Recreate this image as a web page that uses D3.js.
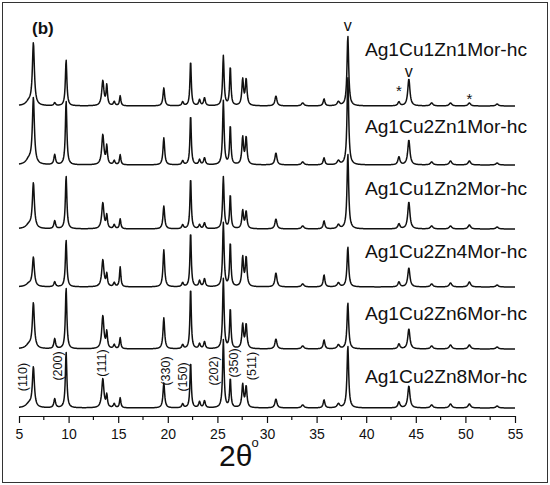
<!doctype html>
<html lang="en">
<head>
  <meta charset="utf-8">
  <title>XRD patterns (b)</title>
<style>
body { margin: 0; background: #fff; }
svg { display: block; font-family: Arial, "Liberation Sans", sans-serif; }
.trace { fill: none; stroke: #111; stroke-width: 1.5; stroke-linejoin: round; }
.axis path, .axis line { stroke: #111; stroke-width: 1.2; }
.axis text { font-size: 14px; fill: #111; font-family: Arial, "Liberation Sans", sans-serif; }
</style>
<script src="https://d3js.org/d3.v7.min.js"></script>
</head>
<body>
<div class="chart"></div>

<script>
// sample names, top to bottom
const samples = ['Ag1Cu1Zn1Mor-hc', 'Ag1Cu2Zn1Mor-hc', 'Ag1Cu1Zn2Mor-hc',
                 'Ag1Cu2Zn4Mor-hc', 'Ag1Cu2Zn6Mor-hc', 'Ag1Cu2Zn8Mor-hc'];

// vertical offset of each pattern (a.u.)
const offsets = [310, 251, 187, 129, 67, 8];

// reflection positions, 2theta (deg)
const peakPos = [6.0, 6.45, 8.6, 9.75, 13.45, 13.85, 14.6, 15.2, 19.6, 21.5, 22.3, 23.2, 23.7,
                 25.6, 26.3, 27.55, 27.9, 30.9, 33.6, 35.75, 37.2, 38.15, 43.3, 44.3,
                 46.6, 48.5, 50.4, 53.2];

// peak heights (a.u.), same order as peakPos
const hCu1Zn1 = [4, 62, 3, 46, 25, 20, 4, 10, 18, 4, 45, 6, 8, 50, 39, 26, 26, 10, 3, 7, 4, 70, 4, 27, 3, 3, 3, 2];
const hCu2Zn1 = [5, 66, 10, 64, 30, 18, 4, 10, 27, 4, 50, 5, 7, 64, 39, 27, 27, 12, 3, 7, 4, 88, 8, 25, 3, 4, 4, 2];
const hCu1Zn2 = [4, 45, 8, 53, 26, 13, 4, 10, 23, 4, 51, 4, 6, 52, 34, 18, 17, 10, 3, 8, 4, 75, 5, 27, 3, 3, 4, 2];
const hCu2Zn4 = [3, 29, 5, 47, 27, 12, 4, 20, 37, 4, 55, 6, 8, 64, 44, 29, 29, 14, 3, 12, 4, 40, 5, 19, 3, 4, 5, 2];
const hCu2Zn6 = [4, 45, 10, 61, 33, 16, 4, 11, 31, 4, 61, 5, 7, 70, 40, 24, 24, 10, 3, 9, 4, 46, 5, 20, 3, 4, 4, 2];
const hCu2Zn8 = [4, 40, 9, 56, 29, 12, 4, 10, 25, 4, 46, 6, 7, 68, 29, 23, 21, 9, 3, 8, 4, 62, 6, 22, 3, 4, 4, 2];
const heights = [hCu1Zn1, hCu2Zn1, hCu1Zn2, hCu2Zn4, hCu2Zn6, hCu2Zn8];

// Miller indices of the mordenite reflections, and where they are written
const hklLabels = ['(110)', '(200)', '(111)', '(330)', '(150)', '(202)', '(350)', '(511)'];
const hklPos    = [5.35, 8.85, 13.35, 19.8, 21.5, 24.65, 26.6, 28.4];

// phase markers on the top pattern: v = Ag, * = Cu
const markText = ['v', 'v', '*', '*'];
const markPos  = [38.15, 44.3, 43.3, 50.4];

const xTicks = [5, 10, 15, 20, 25, 30, 35, 40, 45, 50, 55];
const xMinor = [7.5, 12.5, 17.5, 22.5, 27.5, 32.5, 37.5, 42.5, 47.5, 52.5];

// ---- layout ----
const W = 550, H = 485;
// peak half widths (deg) for drawing
const peakHW = [0.35, 0.12, 0.1, 0.09, 0.13, 0.08, 0.1, 0.08, 0.1, 0.1, 0.08, 0.1, 0.1,
                0.09, 0.08, 0.1, 0.1, 0.12, 0.15, 0.1, 0.15, 0.1, 0.12, 0.13,
                0.15, 0.15, 0.15, 0.15];
const labelY = [360, 283, 221, 158, 96, 33];   // baseline of sample names (a.u.)
const hklY   = [39, 50, 53, 45, 39, 45, 53, 50];
const markY  = [385, 339, 320, 312];

let svg = d3.select('.chart').append('svg')
  .attr('width', W)
  .attr('height', H);

svg.append('rect')
  .attr('x', 2.5).attr('y', 2.5)
  .attr('width', 545).attr('height', 480)
  .attr('fill', 'none')
  .attr('stroke', '#333')
  .attr('stroke-width', 1);

let x = d3.scaleLinear().domain([5, 55]).range([19, 515]);
let y = d3.scaleLinear().domain([0, 416]).range([416, 0]);

// build each pattern from its peak list
let grid = d3.range(5, 55.001, 0.04);
function pattern(h, off) {
  return grid.map(function (t) {
    let s = 0;
    for (let i = 0; i < peakPos.length; i++) {
      let d = (t - peakPos[i]) / peakHW[i];
      s += h[i] / (1 + d * d);
    }
    return [t, off + s];
  });
}

let line = d3.line()
  .x(d => x(d[0]))
  .y(d => y(d[1]));

svg.append('g').selectAll('path')
  .data(heights)
  .enter()
  .append('path')
  .attr('class', 'trace')
  .attr('d', (h, i) => line(pattern(h, offsets[i])));

// sample names
svg.append('g').selectAll('text')
  .data(samples)
  .enter()
  .append('text')
  .attr('x', 527)
  .attr('y', (d, i) => y(labelY[i]))
  .attr('text-anchor', 'end')
  .attr('font-size', 19.2)
  .attr('fill', '#111')
  .text(d => d);

// hkl labels, rotated
svg.append('g').selectAll('text')
  .data(hklLabels)
  .enter()
  .append('text')
  .attr('transform', (d, i) => 'translate(' + x(hklPos[i]) + ',' + y(hklY[i]) + ') rotate(-90)')
  .attr('text-anchor', 'middle')
  .attr('dy', '0.35em')
  .attr('font-size', 12.5)
  .attr('fill', '#111')
  .text(d => d);

// phase markers
svg.append('g').selectAll('text')
  .data(markText)
  .enter()
  .append('text')
  .attr('x', (d, i) => x(markPos[i]))
  .attr('y', (d, i) => y(markY[i]))
  .attr('text-anchor', 'middle')
  .attr('font-size', (d) => d === 'v' ? 16 : 15)
  .attr('fill', '#111')
  .text(d => d);

// x axis
let axis = svg.append('g')
  .attr('class', 'axis')
  .attr('transform', 'translate(0,' + y(0) + ')')
  .call(d3.axisBottom(x).tickValues(xTicks).tickSize(7).tickSizeOuter(0).tickPadding(6));

axis.selectAll('.minor')
  .data(xMinor)
  .enter()
  .append('line')
  .attr('class', 'minor')
  .attr('x1', d => x(d)).attr('x2', d => x(d))
  .attr('y1', 0).attr('y2', 4);

// axis title
let title = svg.append('text')
  .attr('x', 219)
  .attr('y', 466)
  .attr('font-size', 30)
  .attr('fill', '#111')
  .text('2\u03b8');
title.append('tspan')
  .attr('font-size', 13)
  .attr('dx', -1)
  .attr('dy', -19)
  .text('o');

// panel letter
svg.append('text')
  .attr('x', 32)
  .attr('y', 34)
  .attr('font-size', 17)
  .attr('font-weight', 'bold')
  .attr('fill', '#111')
  .text('(b)');

</script>
</body>
</html>
